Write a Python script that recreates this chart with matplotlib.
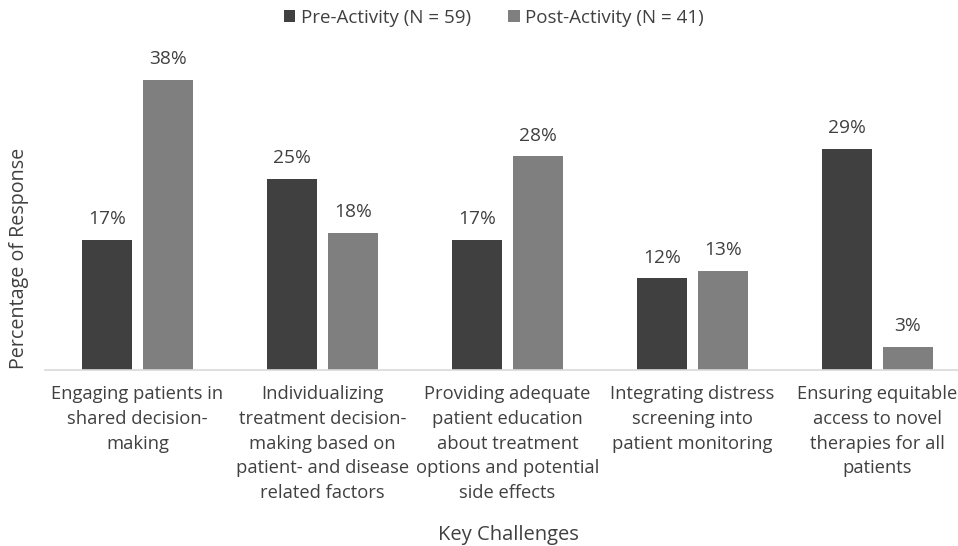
import matplotlib
matplotlib.use("Agg")
import matplotlib.pyplot as plt
import numpy as np

plt.rcParams['font.family'] = ['Open Sans', 'DejaVu Sans']

categories = [
    "Engaging patients in\nshared decision-\nmaking",
    "Individualizing\ntreatment decision-\nmaking based on\npatient- and disease\nrelated factors",
    "Providing adequate\npatient education\nabout treatment\noptions and potential\nside effects",
    "Integrating distress\nscreening into\npatient monitoring",
    "Ensuring equitable\naccess to novel\ntherapies for all\npatients",
]
pre_activity = [17, 25, 17, 12, 29]
post_activity = [38, 18, 28, 13, 3]
series_labels = ["Pre-Activity (N = 59)", "Post-Activity (N = 41)"]

dark = "#404040"
light = "#7f7f7f"
text_color = "#404040"

fig = plt.figure(figsize=(9.58, 5.46), dpi=100)
ax = fig.add_axes([45 / 958, 176 / 546, 1 - 45 / 958, (370 - 60) / 546])

x = np.arange(len(categories))
w = 0.27
off = 0.165
b1 = ax.bar(x - off, pre_activity, w, color=dark, label=series_labels[0])
b2 = ax.bar(x + off, post_activity, w, color=light, label=series_labels[1])

for bars, vals in ((b1, pre_activity), (b2, post_activity)):
    for r, v in zip(bars, vals):
        ax.annotate(f"{v}%", (r.get_x() + r.get_width() / 2, v),
                    xytext=(0, 8.5), textcoords="offset points",
                    ha="center", va="bottom", fontsize=13.8, color=text_color)

ax.set_xlim(-0.5, 4.5 - 12 / 185)
ax.set_ylim(0, 310 / 7.63)
ax.set_xticks(x)
ax.set_xticklabels(categories, fontsize=13.2, color=text_color, linespacing=1.48)
ax.tick_params(axis="x", length=0, pad=11)
ax.set_yticks([])
for s in ("top", "right", "left"):
    ax.spines[s].set_visible(False)
ax.spines["bottom"].set_color("#d9d9d9")
ax.spines["bottom"].set_linewidth(1.2)

fig.text(19 / 958, 1 - 258 / 546, "Percentage of Response", rotation=90,
         ha="center", va="center", fontsize=14.2, color=text_color)
fig.text(508 / 958, 1 - 535 / 546, "Key Challenges", ha="center", va="center",
         fontsize=14.5, color=text_color)

fig.legend(handles=[b1, b2], labels=series_labels, loc="center",
           bbox_to_anchor=(494 / 958, 1 - 18 / 546), ncol=2, frameon=False,
           fontsize=13.5, handlelength=0.6, handleheight=0.6, handletextpad=0.3,
           columnspacing=2.0, labelcolor=text_color)

fig.savefig("out.png", dpi=100)
